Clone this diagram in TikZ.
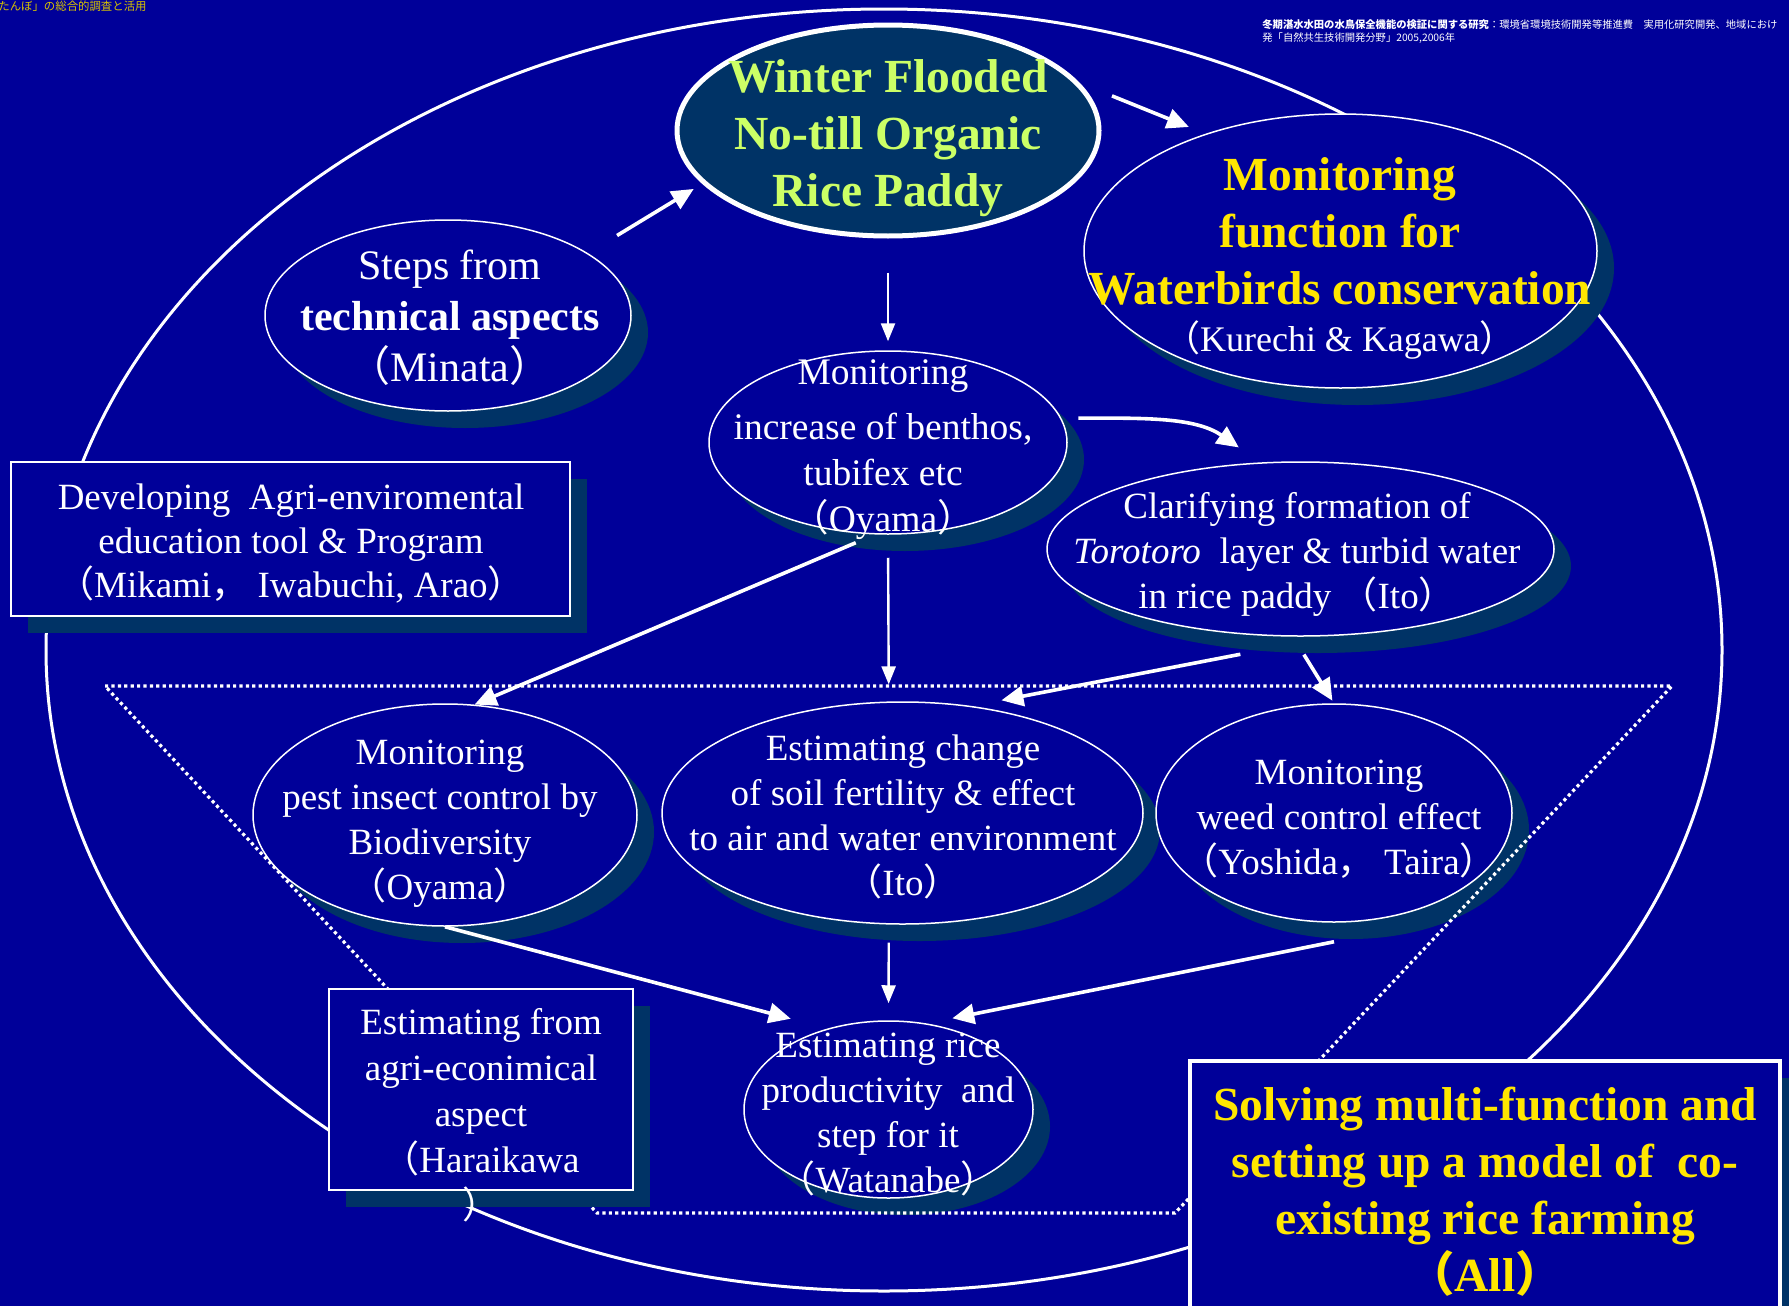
\documentclass[tikz,border=0pt]{standalone}
\usepackage{fontspec}
\setmainfont{Liberation Serif}
\newfontfamily\cjk{Noto Sans CJK JP}
\usetikzlibrary{
arrows.meta,
positioning,
shadows,
shapes.geometric
}
\definecolor{slideblue}{HTML}{000099}
\definecolor{shadeblue}{HTML}{003366}
\definecolor{titleyellow}{HTML}{FFE600}
\definecolor{titlegreen}{HTML}{CCFF66}
\newcommand{\zw}[1]{{\cjk #1}}
\tikzset{>=latex}

\begin{document}
\begin{tikzpicture}[x=0.5pt, y=-0.5pt, font=\fontsize{18.5}{22.5}\selectfont,
	shadowed/.style={drop shadow={shadow xshift=8.5pt, shadow yshift=-8.5pt, fill=shadeblue, opacity=1}},
	bubble/.style={ellipse, draw=white, line width=0.75pt, fill=slideblue, inner sep=0pt, shadowed},
	panel/.style={rectangle, draw=white, line width=0.75pt, fill=slideblue, inner sep=0pt, shadowed},
	body/.style={text=white, align=center, inner sep=0pt},
	heading/.style={text=titleyellow, align=center, inner sep=0pt, font=\fontsize{23.75}{28.5}\selectfont\bfseries},
	flow/.style={white, line width=1.8pt, -{Triangle[length=11pt, width=10pt]}},
	thinflow/.style={white, line width=1.2pt, -{Triangle[length=9pt, width=7pt]}},
	dots/.style={white, line width=1.6pt, dash pattern=on 1.6pt off 1.6pt}]
		\useasboundingbox (0,0) rectangle (1789,1306);
		\fill[slideblue] (0,0) rectangle (1789,1306);
		\draw[white, line width=1.5pt] (884,650) ellipse [x radius=838, y radius=641];

		\node[ellipse, draw=white, line width=2.5pt, fill=shadeblue, inner sep=0pt,
		      minimum width=211pt, minimum height=105.5pt]                 (winter)  at (888,130.5)  {};
		\node[bubble, minimum width=183pt, minimum height=95.5pt]           (steps)   at (448,315.5)  {};
		\node[bubble, minimum width=256.5pt, minimum height=137pt]          (birds)   at (1340.5,251) {};
		\node[bubble, minimum width=179pt, minimum height=91.5pt]           (benthos) at (888,442.5)  {};
		\node[bubble, minimum width=253.5pt, minimum height=87pt]           (toro)    at (1300.5,549) {};
		\node[panel, minimum width=279.5pt, minimum height=77pt]            (develop) at (290.5,539)  {};
		\node[bubble, minimum width=192pt, minimum height=111pt]            (pest)    at (445,815)    {};
		\node[bubble, minimum width=240.5pt, minimum height=111pt]          (soil)    at (902.5,813)  {};
		\node[bubble, minimum width=178pt, minimum height=109pt]            (weed)    at (1334,813)   {};
		\node[bubble, minimum width=144.5pt, minimum height=88.5pt]         (rice)    at (888.5,1109.5) {};

		\draw[dots] (105,686) -- (1672,686) -- (1175,1213) -- (597,1213) -- cycle;

		\node[panel, minimum width=152pt, minimum height=100.5pt]           (harai)   at (481,1089.5) {};
		\node[panel, line width=2.4pt, minimum width=295pt, minimum height=134.5pt] (solve) at (1485,1195.5) {};

		\node[anchor=north west, inner sep=0pt, text=titleyellow!85!black, font=\cjk\fontsize{5.7}{6}\selectfont] (banner) at (-2,0)
			{たんぼ」の総合的調査と活用};
		\node[anchor=north west, inner sep=0pt, align=left, text=white, font=\cjk\fontsize{5.15}{6.5}\selectfont] (source) at (1262,19)
			{\textbf{冬期湛水水田の水鳥保全機能の検証に関する研究}：環境省環境技術開発等推進費　実用化研究開発、地域におけ\\発「自然共生技術開発分野」2005,2006年};

		\node[heading, text=titlegreen]                      (winterlabel)  at (888,138.5) {Winter Flooded\\No-till Organic\\Rice Paddy};
		\node[body, font=\fontsize{21}{25.5}\selectfont]     (stepslabel)   at (450,318)   {Steps from\\\textbf{technical aspects}\\\zw{（}Minata\zw{）}};
		\node[heading]                                       (birdslabel)   at (1340,231)  {Monitoring\\function for\\Waterbirds conservation};
		\node[body, font=\fontsize{18}{21}\selectfont]       (birdsauthors) at (1340,340)  {\zw{（}Kurechi \& Kagawa\zw{）}};
		\node[body, font=\fontsize{18.75}{23}\selectfont]    (bentholabel)  at (883,450)   {Monitoring\\[4.5pt]increase of benthos,\\tubifex etc\\\zw{（}Oyama\zw{）}};
		\node[body]                                          (torolabel)    at (1297,554)  {Clarifying formation of\\\textit{Torotoro}\ \ layer \& turbid water\\in rice paddy \zw{（}Ito\zw{）}};
		\node[body, font=\fontsize{18.5}{22}\selectfont]     (developlabel) at (291,543.5) {Developing\ \ Agri-enviromental\\education tool \& Program\\\zw{（}Mikami\zw{，} Iwabuchi, Arao\zw{）}};
		\node[body]                                          (pestlabel)    at (440,823.5) {Monitoring\\pest insect control by\\Biodiversity\\\zw{（}Oyama\zw{）}};
		\node[body]                                          (soillabel)    at (903,817)   {Estimating change\\of soil fertility \& effect\\to air and water environment\\\zw{（}Ito\zw{）}};
		\node[body]                                          (weedlabel)    at (1339,819)  {Monitoring\\weed control effect\\\zw{（}Yoshida\zw{，} Taira\zw{）}};
		\node[body]                                          (ricelabel)    at (888,1115)  {Estimating rice\\productivity\ \ and\\step for it\\\zw{（}Watanabe\zw{）}};
		\node[body, font=\fontsize{18.5}{23}\selectfont]     (harailabel)   at (481,1115)  {Estimating from\\agri-econimical\\aspect\\\zw{（}Haraikawa\\\zw{）}};
		\node[heading]                                       (solvelabel)   at (1485,1192) {Solving multi-function and\\setting up a model of\ \ co-\\existing rice farming\\\zw{（}All\zw{）}};

		\draw[flow, shorten <=17pt, shorten >=5pt]       (steps.24)     -- (winter.196);
		\draw[flow, shorten <=17.5pt, shorten >=9pt]     (winter.14)    -- (birds.139);
		\draw[thinflow, shorten <=17pt, shorten >=4.5pt] (winter.south) -- (benthos.north);
		\draw[flow, shorten <=8.5pt, shorten >=13pt]     (benthos.8)    to[out=0, in=145] (toro.115);
		\draw[flow, shorten <=10.5pt]                    (benthos.262)  -- (pest.75);
		\draw[thinflow, shorten <=11.5pt, shorten >=8.5pt] (benthos.south) -- (soil.97);
		\draw[flow, shorten <=48.5pt, shorten >=15pt]    (toro.292)     -- (soil.57);
		\draw[flow, shorten <=10.5pt, shorten >=1.5pt]   (toro.265)     -- (weed.north);
		\draw[flow, shorten >=19pt]                      (pest.south)   -- (rice.127);
		\draw[thinflow, shorten <=9pt, shorten >=8.5pt]  (soil.263)     -- (rice.north);
		\draw[flow, shorten >=13pt]                      ([yshift=-9.5pt]weed.south) -- (rice.66);
	\end{tikzpicture}
\end{document}
